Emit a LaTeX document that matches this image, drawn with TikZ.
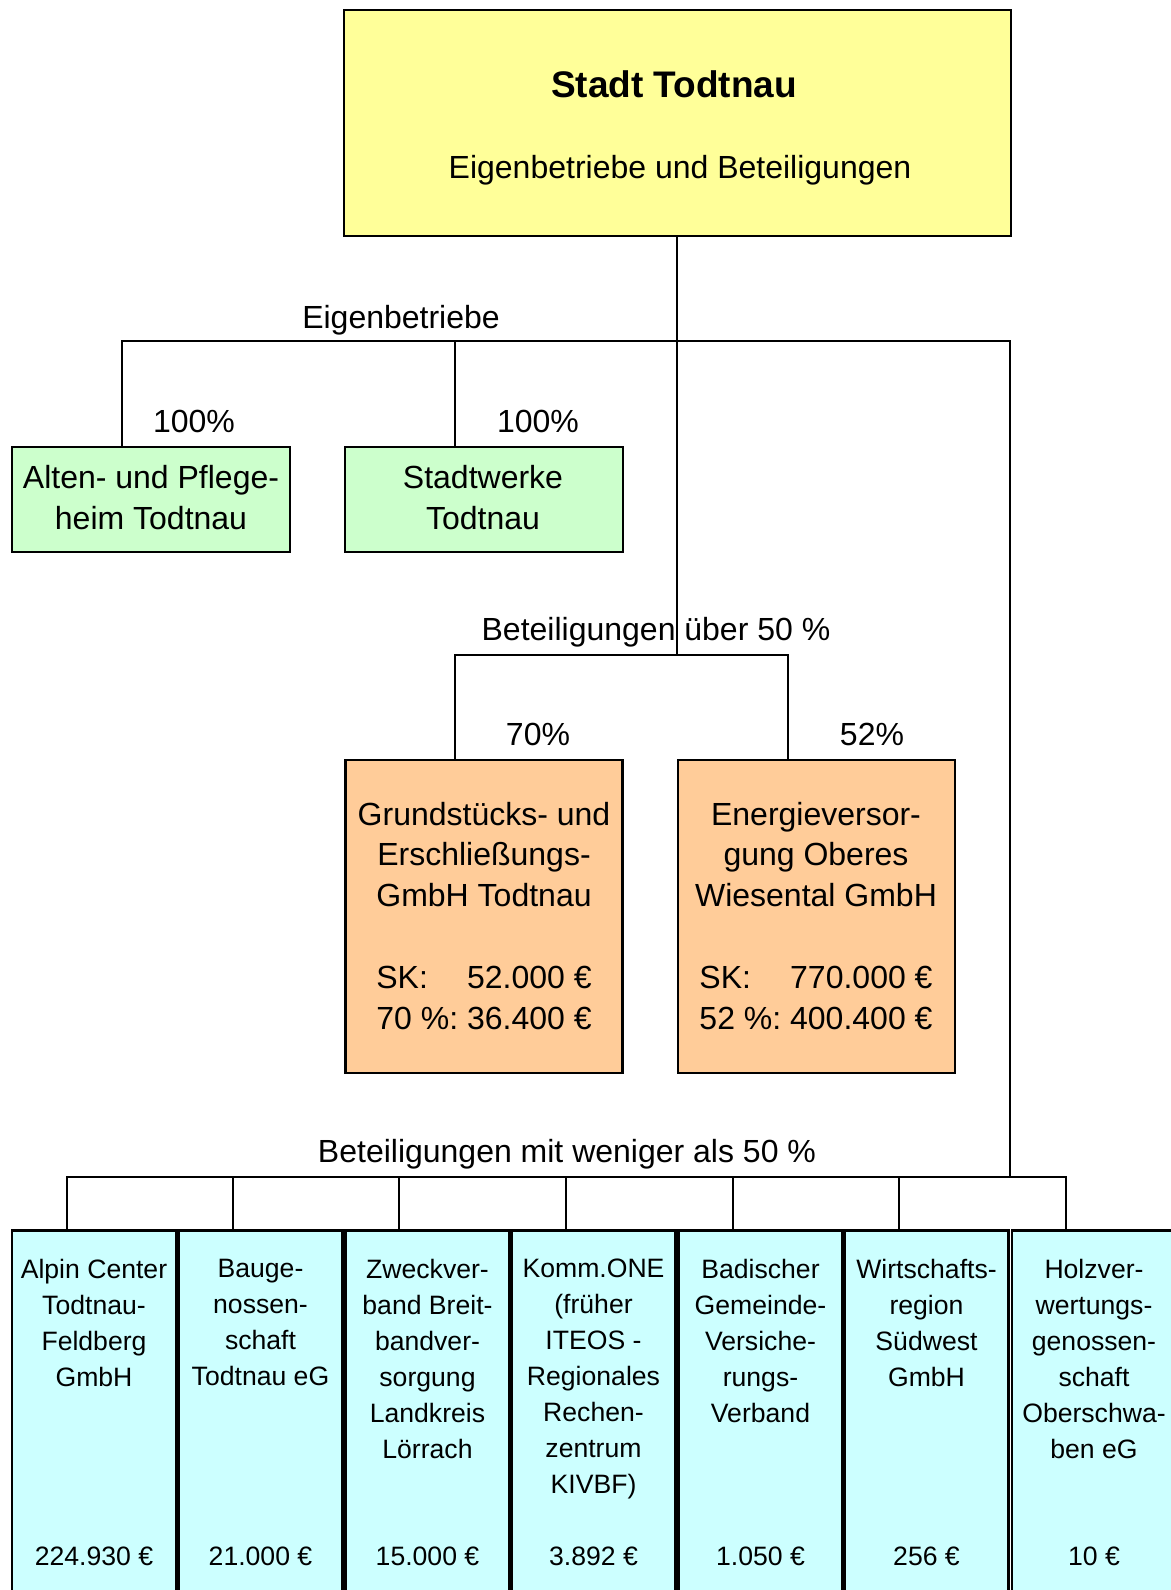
\documentclass[tikz,border=0pt]{standalone}
\usepackage{fontspec}
\setmainfont{Liberation Sans}
\frenchspacing
\definecolor{topyellow}{RGB}{255,255,153}
\definecolor{boxgreen}{RGB}{204,255,204}
\definecolor{boxorange}{RGB}{255,204,153}
\definecolor{boxcyan}{RGB}{204,255,255}
\tikzset{
  basebox/.style={draw=black, line width=1.3pt, rectangle, inner sep=0pt},
  topbox/.style={basebox, fill=topyellow, minimum width=333.5pt, minimum height=113pt},
  greenbox/.style={basebox, fill=boxgreen, minimum width=139pt, minimum height=52.5pt},
  orangebox/.style={basebox, fill=boxorange, minimum width=138.5pt, minimum height=156.5pt},
  cyanbox/.style={basebox, fill=boxcyan, minimum width=82pt, minimum height=210pt},
  maintxt/.style={align=center, inner sep=0pt, font=\fontsize{16}{20.4}\selectfont},
  smalltxt/.style={align=center, inner sep=0pt, font=\fontsize{13.3}{18}\selectfont},
  conn/.style={line width=1pt, line cap=rect},
}
\begin{document}
\begin{tikzpicture}[x=0.5pt, y=-0.5pt]
\useasboundingbox (0,0) rectangle (1171,1590);
% top box
\node[topbox] (top) at (677.5,123) {};
\node[inner sep=0pt, font=\fontsize{18.5}{22}\selectfont\bfseries] (title) at (674,84) {Stadt Todtnau};
\node[maintxt] (subtitle) at (680,170) {Eigenbetriebe und Beteiligungen};
% green boxes
\node[greenbox] (alt) at (151,499.5) {};
\node[maintxt, font=\fontsize{16}{20.6}\selectfont] (altt) at (151,497.5) {Alten- und Pflege-\\heim Todtnau};
\node[greenbox] (sw) at (484,499.5) {};
\node[maintxt, font=\fontsize{16}{20.6}\selectfont] (swt) at (483,497.5) {Stadtwerke\\Todtnau};
% orange boxes
\node[orangebox] (gef) at (484,916.5) {};
\node[maintxt, anchor=north] (geft) at (484,801.5) {Grundstücks- und\\Erschließungs-\\GmbH Todtnau\\[20.4pt]\makebox[2.835em][l]{SK:}52.000 €\\70 \%: 36.400 €};
\node[orangebox] (ev) at (816.5,916.5) {};
\node[maintxt, anchor=north] (evt) at (816,801.5) {Energieversor-\\gung Oberes\\Wiesental GmbH\\[20.4pt]\makebox[2.835em][l]{SK:}770.000 €\\52 \%: 400.400 €};
% bottom cyan boxes
\foreach \cx/\name/\txt/\amt in {
  94/alpin/{Alpin Center\\Todtnau-\\Feldberg\\GmbH}/{224.930 €},
  260.5/bau/{Bauge-\\nossen-\\schaft\\Todtnau eG}/{21.000 €},
  427.5/zweck/{Zweckver-\\band Breit-\\bandver-\\sorgung\\Landkreis\\Lörrach}/{15.000 €},
  593.5/komm/{Komm.ONE\\(früher\\ITEOS -\\Regionales\\Rechen-\\zentrum\\KIVBF)}/{3.892 €},
  760.5/bgv/{Badischer\\Gemeinde-\\Versiche-\\rungs-\\Verband}/{1.050 €},
  926.5/wrsw/{Wirtschafts-\\region\\Südwest\\GmbH}/{256 €},
  1094/holz/{Holzver-\\wertungs-\\genossen-\\schaft\\Oberschwa-\\ben eG}/{10 €}}{
  \node[cyanbox, anchor=north] (\name) at (\cx,1229) {};
  \node[smalltxt, anchor=north] (\name t) at (\cx,1259) {\txt};
  \node[smalltxt] (\name a) at (\cx,1556) {\amt};
}
% labels
\node[maintxt] (leig) at (401,320) {Eigenbetriebe};
\node[maintxt] (p1) at (194,421) {100\%};
\node[maintxt] (p2) at (538,421) {100\%};
\node[maintxt] (lueber) at (656,632) {Beteiligungen über 50 \%};
\node[maintxt] (p3) at (538,734) {70\%};
\node[maintxt] (p4) at (872,734) {52\%};
\node[maintxt] (lunter) at (567,1154) {Beteiligungen mit weniger als 50 \%};
% coordinates for the buses
\coordinate (ja) at (677,341);
\coordinate (jb) at (677,655);
\coordinate (jr) at (1010,341);
\coordinate (jd) at (1010,1177);
\coordinate (xa) at (122,0);
\coordinate (xb) at (455,0);
\coordinate (xc) at (788,655);
\coordinate (xl) at (67,0);
\coordinate (xr) at (1066,1177);
% connectors
\draw[conn] (top.south -| ja) -- (jb);
\draw[conn] (alt.north -| xa) |- (jr) -- (jd);
\draw[conn] (sw.north -| xb) -- (xb |- ja);
\draw[conn] (gef.north -| xb) |- (xc) -- (ev.north -| xc);
\draw[conn] (alpin.north -| xl) |- (xr) -- (holz.north -| xr);
\foreach \name/\xx in {bau/233, zweck/399, komm/566, bgv/733, wrsw/899}{
  \coordinate (c\name) at (\xx,1177);
  \draw[conn] (\name.north -| c\name) -- (c\name);
}
\end{tikzpicture}
\end{document}
